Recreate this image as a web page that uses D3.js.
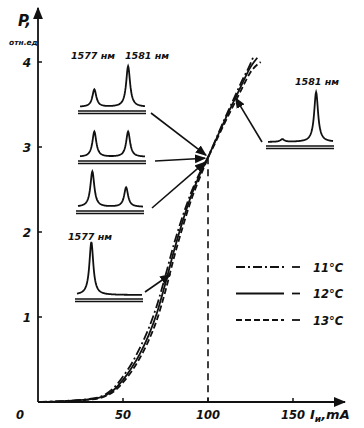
<!DOCTYPE html>
<html><head><meta charset="utf-8">
<script src="https://cdn.jsdelivr.net/npm/d3@7"></script>
<style>
html,body{margin:0;padding:0;background:#fff;}
svg{display:block;}
text{font-family:"DejaVu Sans",sans-serif;font-style:italic;font-weight:bold;fill:#111;}
</style></head><body>
<script>
// ---- data ----
const xTicks = [50, 100, 150];
const yTicks = [1, 2, 3, 4];
const current11 = [0,10,20,30,35,40,45,50,55,60,65,70,75,80,85,90,95,100,105,110,115,120,125,127];
const power11   = [0,0.006,0.017,0.035,0.052,0.095,0.175,0.3,0.45,0.64,0.86,1.14,1.49,1.86,2.18,2.46,2.69,2.88,3.11,3.34,3.56,3.78,3.98,4.08];
const current12 = [0,10,20,30,35,40,45,50,55,60,65,70,75,80,85,90,95,100,105,110,115,120,125,129];
const power12   = [0,0.005,0.015,0.03,0.045,0.08,0.15,0.26,0.4,0.57,0.78,1.05,1.4,1.78,2.12,2.42,2.67,2.88,3.1,3.32,3.53,3.74,3.94,4.05];
const current13 = [0,10,20,30,35,40,45,50,55,60,65,70,75,80,85,90,95,100,105,110,115,120,125,131];
const power13   = [0,0.004,0.013,0.027,0.04,0.07,0.13,0.23,0.36,0.52,0.72,0.97,1.31,1.7,2.05,2.37,2.63,2.87,3.08,3.29,3.49,3.69,3.88,4.0];
const seriesNames = ["11°C", "12°C", "13°C"];
const markerCurrent = 100;
// inset spectra: mode wavelengths (nm) and relative amplitudes
const modeWavelengths = [1577, 1581];
const spectrumA = [0.33, 0.77];
const spectrumB = [0.48, 0.48];
const spectrumC = [0.67, 0.37];
const spectrumD = [0.05, 0.94];
const spectrumE = [1.0, 0.0];

// ---- layout ----
const W = 364, H = 428;
const svg = d3.select("body").append("svg").attr("width", W).attr("height", H);
const x = d3.scaleLinear().domain([0, 150]).range([38, 293]);
const y = d3.scaleLinear().domain([0, 4]).range([402, 62]);
const ink = "#111";

const defs = svg.append("defs");
defs.append("marker").attr("id","arr").attr("viewBox","0 0 10 10").attr("refX",9).attr("refY",5)
  .attr("markerWidth",7).attr("markerHeight",7).attr("orient","auto-start-reverse")
  .append("path").attr("d","M0,1 L10,5 L0,9 Z").attr("fill",ink);

// axes
svg.append("line").attr("x1",x(0)).attr("y1",y(0)).attr("x2",345).attr("y2",y(0))
  .attr("stroke",ink).attr("stroke-width",1.8).attr("marker-end","url(#arr)");
svg.append("line").attr("x1",x(0)).attr("y1",y(0)).attr("x2",x(0)).attr("y2",8)
  .attr("stroke",ink).attr("stroke-width",1.8).attr("marker-end","url(#arr)");

xTicks.forEach(t=>{
  svg.append("line").attr("x1",x(t)).attr("x2",x(t)).attr("y1",y(0)).attr("y2",y(0)-4).attr("stroke",ink).attr("stroke-width",1.5);
  svg.append("text").attr("x",x(t)).attr("y",419).attr("text-anchor","middle").attr("font-size",11.5).text(t);
});
svg.append("text").attr("x",20).attr("y",419).attr("text-anchor","middle").attr("font-size",11.5).text("0");
yTicks.forEach(t=>{
  svg.append("line").attr("x1",x(0)).attr("x2",x(0)+4).attr("y1",y(t)).attr("y2",y(t)).attr("stroke",ink).attr("stroke-width",1.5);
  svg.append("text").attr("x",27).attr("y",y(t)+5).attr("text-anchor","middle").attr("font-size",12).text(t);
});
// axis titles
svg.append("text").attr("x",18).attr("y",26).attr("font-size",15).text("P,");
svg.append("text").attr("x",9).attr("y",45).attr("font-size",7.5).text("отн.ед");
const xt = svg.append("text").attr("x",310).attr("y",419).attr("font-size",13);
xt.append("tspan").text("I");
xt.append("tspan").attr("font-size",9).attr("dy",3).text("и");
xt.append("tspan").attr("dy",-3).text(",mA");

// dashed vertical at 100 mA
const pAt100 = power12[current12.indexOf(markerCurrent)];
svg.append("line").attr("x1",x(markerCurrent)).attr("x2",x(markerCurrent)).attr("y1",y(pAt100)).attr("y2",y(0))
  .attr("stroke",ink).attr("stroke-width",1.6).attr("stroke-dasharray","7,5");

// curves
const dashes = ["9,3,2,3", null, "6,3"];
const allSeries = [[current11,power11],[current12,power12],[current13,power13]];
const line = d3.line().x(d=>x(d[0])).y(d=>y(d[1])).curve(d3.curveMonotoneX);
allSeries.forEach((s,i)=>{
  const pts = s[0].map((c,j)=>[c, s[1][j]]);
  svg.append("path").attr("d",line(pts)).attr("fill","none").attr("stroke",ink)
    .attr("stroke-width",1.8).attr("stroke-dasharray",dashes[i]);
});

// legend
seriesNames.forEach((n,i)=>{
  const ly = 267 + i*26.5;
  svg.append("line").attr("x1",236).attr("x2",284).attr("y1",ly).attr("y2",ly).attr("stroke",ink)
    .attr("stroke-width",1.8).attr("stroke-dasharray",dashes[i]);
  svg.append("line").attr("x1",292).attr("x2",300).attr("y1",ly).attr("y2",ly).attr("stroke",ink).attr("stroke-width",1.8);
  svg.append("text").attr("x",313).attr("y",ly+4.5).attr("font-size",11.5).text(n);
});

// insets
const lx = d3.scaleLinear().domain([1575.3, 1583]).range([0, 65]);
function spectrum(amps, left, base, scaleH){
  const g = svg.append("g");
  const hy = d3.scaleLinear().domain([0,1]).range([base, base-scaleH]);
  const pts = d3.range(1575.3, 1583.01, 0.05).map(w=>{
    let v = 0;
    amps.forEach((a,k)=>{ const gm=0.28; const dw=w-modeWavelengths[k]; v += a*gm*gm/(dw*dw+gm*gm); });
    return [left+lx(w), hy(v)];
  });
  g.append("path").attr("d",d3.line().curve(d3.curveLinear)(pts)).attr("fill","none").attr("stroke",ink).attr("stroke-width",1.8);
  g.append("line").attr("x1",left-2).attr("x2",left+66).attr("y1",base+4).attr("y2",base+4).attr("stroke",ink).attr("stroke-width",1.3);
  g.append("line").attr("x1",left-2).attr("x2",left+66).attr("y1",base+6.5).attr("y2",base+6.5).attr("stroke",ink).attr("stroke-width",1.3);
  return hy;
}
const insetH = 53;
spectrum(spectrumA, 80, 107, insetH);
spectrum(spectrumB, 80, 157, insetH);
spectrum(spectrumC, 78, 207, insetH);
spectrum(spectrumD, 268, 142, insetH);
spectrum(spectrumE, 77, 295, insetH);

// inset labels
svg.append("text").attr("x",71).attr("y",59).attr("font-size",9.5).text(modeWavelengths[0]+" нм");
svg.append("text").attr("x",125).attr("y",59).attr("font-size",9.5).text(modeWavelengths[1]+" нм");
svg.append("text").attr("x",295).attr("y",85).attr("font-size",9.5).text(modeWavelengths[1]+" нм");
svg.append("text").attr("x",68).attr("y",240).attr("font-size",9.5).text(modeWavelengths[0]+" нм");

// pointers to the curves
const cx = x(markerCurrent), cy = y(pAt100);
const pointers = [
  [151,113, cx-2, cy-2],
  [155,161, cx-3, cy+1],
  [152,208, cx-3, cy+5],
  [262,142, x(115)+2, y(power12[current12.indexOf(115)])-4],
  [145,292, x(76)+3, y(1.5)]
];
pointers.forEach(p=>{
  svg.append("line").attr("x1",p[0]).attr("y1",p[1]).attr("x2",p[2]).attr("y2",p[3])
    .attr("stroke",ink).attr("stroke-width",1.6).attr("marker-end","url(#arr)");
});
</script>
</body></html>
